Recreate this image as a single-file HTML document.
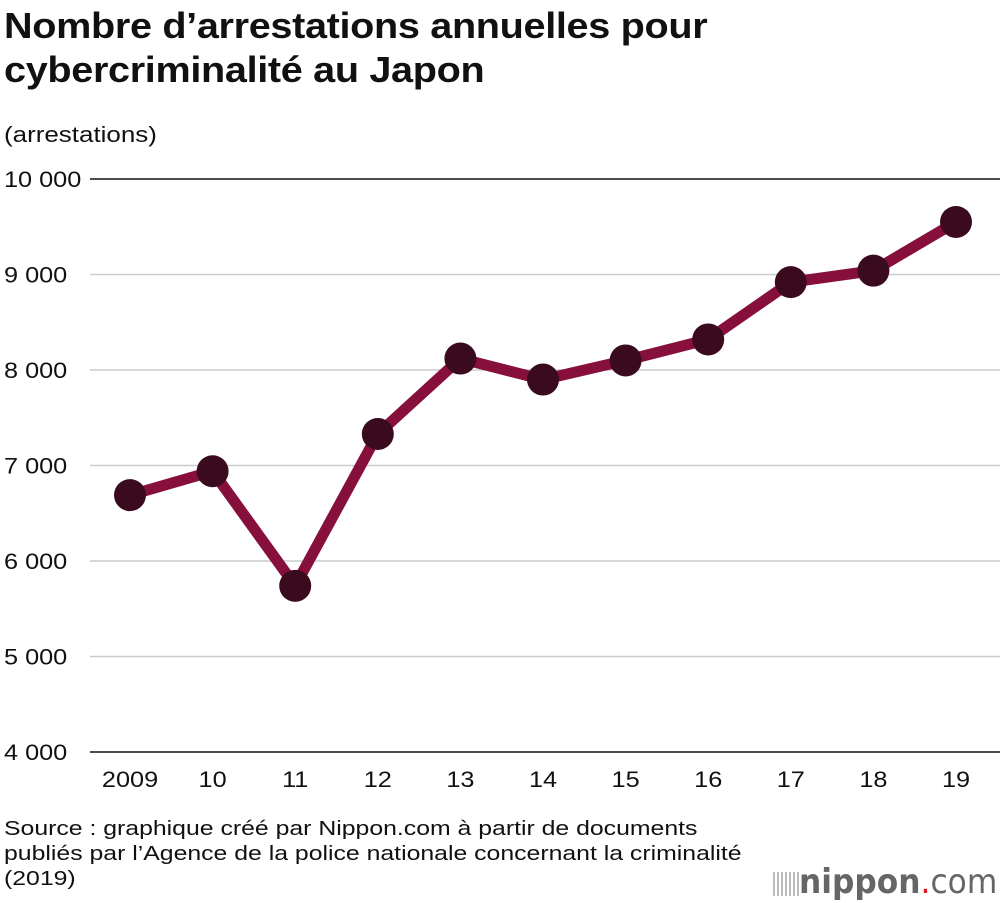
<!DOCTYPE html>
<html><head><meta charset="utf-8"><style>
body{margin:0;width:1001px;height:903px;background:#fff;font-family:"Liberation Sans",sans-serif;overflow:hidden;position:relative}
.t{position:absolute;color:#111;transform-origin:0 0;white-space:nowrap}
</style></head><body>
<div class="t" style="left:4px;top:4px;font-size:36px;font-weight:bold;line-height:44px;letter-spacing:-0.3px;transform:scaleX(1.1)">Nombre d’arrestations annuelles pour<br>cybercriminalité au Japon</div>
<div class="t" style="left:4px;top:122px;font-size:22px;transform:scaleX(1.18)">(arrestations)</div>
<svg id="c" width="1001" height="903" style="position:absolute;left:0;top:0"></svg>
<div class="t" style="left:4px;top:817px;font-size:20px;line-height:25px;transform:scaleX(1.24)">Source : graphique créé par Nippon.com à partir de documents<br>publiés par l’Agence de la police nationale concernant la criminalité<br>(2019)</div>
<div style="position:absolute;left:773px;top:862px;white-space:nowrap;font-size:34px;color:#666;font-family:'DejaVu Sans',sans-serif;line-height:40px">
<span style="display:inline-block;width:26px;height:24px;background:repeating-linear-gradient(90deg,#bbb 0 2px,transparent 2px 4px);vertical-align:middle"></span><span style="display:inline-block;transform:scaleX(0.92);transform-origin:0 0"><b> nippon</b><span style="color:#e8141e">.</span>com</span></div>
<script>
const years=["2009","10","11","12","13","14","15","16","17","18","19"];
const arrests=[6690,6940,5740,7330,8120,7900,8100,8320,8920,9040,9550];
const yTicks=[4000,5000,6000,7000,8000,9000,10000];
const yTickLabels=["4 000","5 000","6 000","7 000","8 000","9 000","10 000"];
const NS="http://www.w3.org/2000/svg";
const svg=document.getElementById('c');
const yS=v=>752-(v-4000)/6000*573;
const xS=i=>130+i*82.6;
function mk(t,a){const e=document.createElementNS(NS,t);for(const k in a)e.setAttribute(k,a[k]);svg.appendChild(e);return e;}
yTicks.forEach((v,i)=>{
 const l=mk('line',{x1:90,x2:1000,y1:yS(v),y2:yS(v),stroke:(v==4000||v==10000)?'#111':'#ccc','stroke-width':1.5});
 
 
 const t=mk('text',{x:4,y:yS(v)+8,'font-size':22,fill:'#111',transform:'translate(4,0) scale(1.15,1) translate(-4,0)'});
 t.textContent=yTickLabels[i];
 
 
});
years.forEach((y,i)=>{
 const t=mk('text',{x:0,y:0,'font-size':22,fill:'#111','text-anchor':'middle',transform:'translate('+xS(i)+',787) scale(1.15,1)'});
 t.textContent=y;
 
 
});
const p=mk('polyline',{points:arrests.map((v,i)=>xS(i)+','+yS(v)).join(' '),fill:'none',stroke:'#870f3b','stroke-width':11,'stroke-linejoin':'round'});


arrests.forEach((v,i)=>{
 const c=mk('circle',{cx:xS(i),cy:yS(v),r:16,fill:'#3a0a1e'});
 
 
});
</script>
</body></html>
